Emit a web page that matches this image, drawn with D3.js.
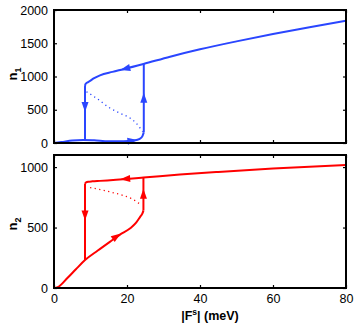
<!DOCTYPE html>
<html><head><meta charset="utf-8">
<script src="https://cdn.jsdelivr.net/npm/d3@7"></script>
<style>body{margin:0;background:#fff}svg{display:block}text{font-family:"Liberation Sans",Arial,Helvetica,sans-serif}</style>
</head><body>
<svg id="c" width="357" height="325"></svg>
<script>
const xTicks = [0, 20, 40, 60, 80];
const n1Ticks = [0, 500, 1000, 1500, 2000];
const n2Ticks = [0, 500, 1000];

// n1 (top panel)
const n1Upper = [[8.5,857],[8.6,885],[9,905],[9.9,935],[11,975],[12.6,1018],[16,1070],[19,1110],[24.5,1188],[31.8,1298],[40,1409],[50,1528],[60,1639],[70,1742],[80,1839]];
const n1Lower = [[0,0],[2,14],[5,38],[8,46],[11,40],[15,26],[19,26],[22,38],[23.5,62],[24.2,100],[24.6,160]];
const n1Unstable = [[8.9,771],[12,660],[15.3,526],[18,450],[20.8,376],[22.5,300],[23.6,225],[24.3,170]];
const n1JumpDown = [[8.5,857],[8.5,44]];
const n1JumpUp = [[24.6,160],[24.6,1188]];
const n1Arrows = [[8.5,540,"down"],[24.6,680,"up"],[19.5,1117,"left"],[21.5,36,"right"]];

// n2 (bottom panel)
const n2Upper = [[8.5,864],[8.8,873],[9.5,879],[10.5,882],[12.6,886],[24.5,913],[34.5,938],[45,960],[60,988],[80,1017]];
const n2Lower = [[0,0],[1,6],[3.6,80],[6,155],[8.5,231],[12,310],[15.3,382],[18,440],[20.8,492],[22.5,540],[23.6,588],[24.2,615],[24.5,640]];
const n2Unstable = [[9.9,830],[13,812],[16,790],[19,765],[21.5,735],[23.6,693]];
const n2JumpDown = [[8.5,864],[8.5,231]];
const n2JumpUp = [[24.5,640],[24.5,913]];
const n2Arrows = [[8.5,600,"down"],[24.5,780,"up"],[19.5,902,"left"],[17.2,428,"right"]];

const svg = d3.select("#c");
const X0 = 54, X1 = 346;
const x = d3.scaleLinear().domain([0, 80]).range([X0, X1]);

function panel(cfg) {
  const y = d3.scaleLinear().domain(cfg.ydom).range([cfg.bottom, cfg.top]);
  const g = svg.append("g");
  const tl = 3;
  g.append("g").attr("transform", `translate(${X0},0)`)
    .call(d3.axisLeft(y).tickValues(cfg.yticks).tickSize(-tl).tickPadding(6).tickFormat(d3.format("d")))
    .call(a => { a.select(".domain").remove(); a.selectAll("text").style("font-size","12.5px").attr("fill","#000"); a.selectAll("line").attr("stroke","#000").attr("stroke-width",1.2); });
  g.append("g").attr("transform", `translate(${X1},0)`)
    .call(d3.axisRight(y).tickValues(cfg.yticks).tickSize(-tl).tickFormat(""))
    .call(a => { a.select(".domain").remove(); a.selectAll("line").attr("stroke","#000").attr("stroke-width",1.2); });
  g.append("g").attr("transform", `translate(0,${cfg.bottom})`)
    .call(d3.axisBottom(x).tickValues(xTicks).tickSize(-tl).tickPadding(6).tickFormat(cfg.xlabels ? d3.format("d") : ""))
    .call(a => { a.select(".domain").remove(); a.selectAll("text").style("font-size","12.5px").attr("fill","#000"); a.selectAll("line").attr("stroke","#000").attr("stroke-width",1.2); });
  g.append("g").attr("transform", `translate(0,${cfg.top})`)
    .call(d3.axisTop(x).tickValues(xTicks).tickSize(-tl).tickFormat(""))
    .call(a => { a.select(".domain").remove(); a.selectAll("line").attr("stroke","#000").attr("stroke-width",1.2); });

  const line = d3.line().x(d => x(d[0])).y(d => y(d[1])).curve(d3.curveMonotoneX);
  const straight = d3.line().x(d => x(d[0])).y(d => y(d[1]));
  const c = cfg.color;
  g.append("path").attr("d", line(cfg.unstable)).attr("fill","none").attr("stroke",c).attr("stroke-width",1.3).attr("stroke-dasharray","1.2,3.4");
  [cfg.upper, cfg.lower].forEach(s => g.append("path").attr("d", line(s)).attr("fill","none").attr("stroke",c).attr("stroke-width",2).attr("stroke-linejoin","round"));
  [cfg.jd, cfg.ju].forEach(s => g.append("path").attr("d", straight(s)).attr("fill","none").attr("stroke",c).attr("stroke-width",2));

  function interp(s, xv) {
    for (let i = 0; i < s.length - 1; i++) {
      if (xv >= s[i][0] && xv <= s[i+1][0]) {
        const t = (xv - s[i][0]) / (s[i+1][0] - s[i][0]);
        return s[i][1] + t * (s[i+1][1] - s[i][1]);
      }
    }
    return s[s.length-1][1];
  }
  cfg.arrows.forEach(a => {
    const px = x(a[0]), py = y(a[1]);
    let ang;
    if (a[2] === "down") ang = 90;
    else if (a[2] === "up") ang = -90;
    else {
      const s = a[2] === "left" ? cfg.upper : cfg.lower;
      const dx = x(a[0] + 1) - x(a[0] - 1);
      const dy = y(interp(s, a[0] + 1)) - y(interp(s, a[0] - 1));
      ang = Math.atan2(dy, dx) * 180 / Math.PI;
      if (a[2] === "left") ang += 180;
    }
    g.append("path").attr("d", "M5,0 L-5,-3.5 L-5,3.5 Z").attr("fill", c)
      .attr("transform", `translate(${px},${py}) rotate(${ang})`);
  });

  g.append("rect").attr("x", X0).attr("y", cfg.top).attr("width", X1 - X0).attr("height", cfg.bottom - cfg.top)
    .attr("fill","none").attr("stroke","#000").attr("stroke-width",2);

  const lbl = svg.append("text").attr("transform", `translate(${cfg.lx},${cfg.ly}) rotate(-90)`)
    .attr("text-anchor","middle").style("font-size","13px").style("font-weight","bold");
  lbl.append("tspan").text("n");
  lbl.append("tspan").attr("dy", 4).style("font-size","9px").text(cfg.sub);
}

panel({ydom:[0,2000], top:10, bottom:143, yticks:n1Ticks, xlabels:false, color:"#2a46ff",
  upper:n1Upper, lower:n1Lower, unstable:n1Unstable, jd:n1JumpDown, ju:n1JumpUp, arrows:n1Arrows, sub:"1", lx:17, ly:74});
panel({ydom:[0,1100], top:155, bottom:288, yticks:n2Ticks, xlabels:true, color:"#ff0000",
  upper:n2Upper, lower:n2Lower, unstable:n2Unstable, jd:n2JumpDown, ju:n2JumpUp, arrows:n2Arrows, sub:"2", lx:17, ly:224});

const xl = svg.append("text").attr("x", 210).attr("y", 319.5).attr("text-anchor","middle")
  .style("font-size","12.5px").style("font-weight","bold");
xl.append("tspan").text("|F");
xl.append("tspan").attr("dy", -4.5).style("font-size","8.5px").text("s");
xl.append("tspan").attr("dy", 4.5).text("| (meV)");
</script>
</body></html>
